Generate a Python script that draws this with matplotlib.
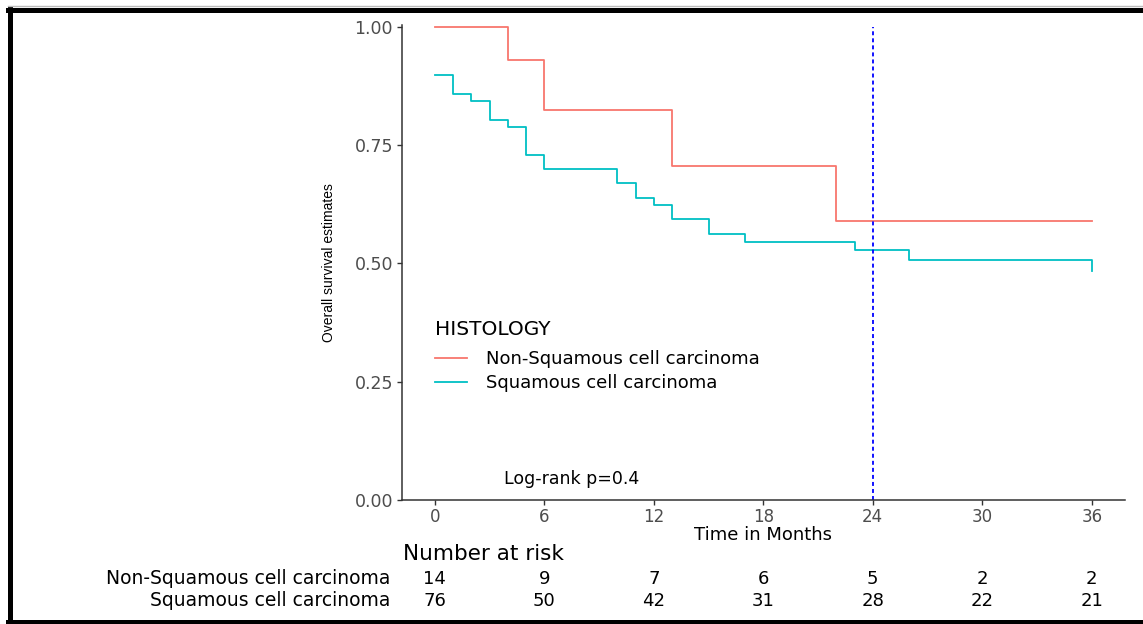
import numpy as np
import matplotlib.pyplot as plt
from matplotlib.lines import Line2D
from matplotlib.transforms import blended_transform_factory

# Kaplan-Meier steps (months, survival probability)
nonsq_time = [0, 4, 6, 13, 22, 36]
nonsq_surv = [1.0, 0.929, 0.825, 0.707, 0.589, 0.589]

sq_time = [0, 1, 2, 3, 4, 5, 6, 10, 11, 12, 13, 15, 17, 23, 26, 36]
sq_surv = [0.898, 0.858, 0.843, 0.803, 0.789, 0.730, 0.700, 0.670,
           0.638, 0.624, 0.594, 0.562, 0.546, 0.529, 0.507, 0.485]

groups = ['Non-Squamous cell carcinoma', 'Squamous cell carcinoma']
colors = ['#F8766D', '#00BFC4']

# number at risk table
risk_times = [0, 6, 12, 18, 24, 30, 36]
risk_nonsq = [14, 9, 7, 6, 5, 2, 2]
risk_sq = [76, 50, 42, 31, 28, 22, 21]

cutoff_month = 24
pval_text = 'Log-rank p=0.4'

W, H = 1143, 624
fig = plt.figure(figsize=(W / 100, H / 100), dpi=100)
fig.patch.set_facecolor('white')

def fx(px):
    return px / W

def fy(py):
    return 1 - py / H

ax = fig.add_axes([fx(402), fy(500), fx(1124.6) - fx(402), fy(25) - fy(500)])

ax.step(nonsq_time, nonsq_surv, where='post', color=colors[0], lw=1.3,
        clip_on=False, label=groups[0])
ax.step(sq_time, sq_surv, where='post', color=colors[1], lw=1.3,
        clip_on=False, label=groups[1])
ax.axvline(cutoff_month, ymax=0.996, color='blue', lw=1.3, ls=(0, (2.2, 1.7)))

ax.set_xlim(-1.8, 37.8)
ax.set_ylim(0, 1.004)
ax.set_xticks(risk_times)
ax.set_yticks([0, 0.25, 0.5, 0.75, 1.0])
ax.set_yticklabels(['0.00', '0.25', '0.50', '0.75', '1.00'])

for side in ['top', 'right']:
    ax.spines[side].set_visible(False)
for side in ['left', 'bottom']:
    ax.spines[side].set_color('#333333')
    ax.spines[side].set_linewidth(1.1)
ax.tick_params(axis='both', colors='#333333', length=3.5, width=1.0,
               labelcolor='#4D4D4D', labelsize=12.5)
ax.tick_params(axis='x', pad=2, labelsize=12)
ax.tick_params(axis='y', pad=3)
for lab in ax.get_xticklabels() + ax.get_yticklabels():
    lab.set_family('DejaVu Sans')

ax.set_xlabel('Time in Months', fontsize=13, family='DejaVu Sans',
              color='black', labelpad=0)
ax.set_ylabel('Overall survival estimates', fontsize=10,
              family='Liberation Sans', color='black', labelpad=13)

leg = ax.legend(handles=[Line2D([], [], color=c, lw=1.3) for c in colors],
                labels=groups, title='HISTOLOGY', loc='upper left',
                bbox_to_anchor=(fx(435), fy(320)),
                bbox_transform=fig.transFigure, frameon=False,
                prop={'family': 'DejaVu Sans', 'size': 13},
                title_fontproperties={'family': 'DejaVu Sans', 'size': 14.5},
                alignment='left', handlelength=1.75, handletextpad=1.05,
                labelspacing=0.33, borderpad=0, borderaxespad=0)
leg._legend_box.sep = 8

ax.text(3.8, (500 - 479) / 475, pval_text, fontsize=12.5,
        family='DejaVu Sans', color='black', va='center', ha='left')

# risk table under the plot
fig.text(fx(403), fy(554), 'Number at risk', fontsize=15.5,
         family='DejaVu Sans', color='black', va='center', ha='left')
row_y = [fy(579), fy(601)]
tr = blended_transform_factory(ax.transData, fig.transFigure)
for name, counts, y in zip(groups, [risk_nonsq, risk_sq], row_y):
    fig.text(fx(390), y, name, fontsize=13.5, family='DejaVu Sans',
             color='black', va='center', ha='right')
    for t, n in zip(risk_times, counts):
        ax.text(t, y, str(n), transform=tr, fontsize=13, family='DejaVu Sans',
                color='black', va='center', ha='center', clip_on=False)

# frame around the figure
fig.add_artist(Line2D([fx(8), 1], [fy(9.5), fy(9.5)], color='black', lw=3.6,
                      transform=fig.transFigure))
fig.add_artist(Line2D([fx(10), fx(10)], [fy(7.5), 0], color='black', lw=3.6,
                      transform=fig.transFigure))
fig.add_artist(Line2D([fx(8), 1], [fy(622), fy(622)], color='black', lw=3.6,
                      transform=fig.transFigure))
fig.add_artist(Line2D([fx(8), 1], [fy(5.5), fy(5.5)], color='#BBBBBB', lw=1,
                      transform=fig.transFigure))

fig.savefig('out.png', dpi=100)
